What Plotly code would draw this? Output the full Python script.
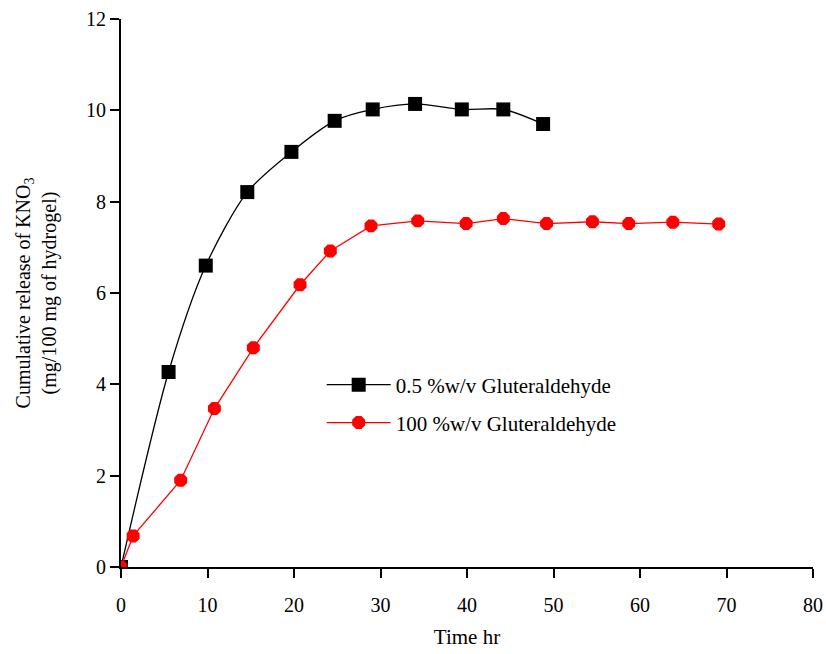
import plotly.graph_objects as go

# Data
time_a = [0, 5.5, 9.8, 14.6, 19.7, 24.7, 29.1, 34.0, 39.4, 44.2, 48.8]
rel_a = [0, 4.27, 6.6, 8.21, 9.09, 9.77, 10.02, 10.14, 10.02, 10.02, 9.70]
time_b = [0, 1.4, 6.9, 10.8, 15.3, 20.7, 24.2, 28.9, 34.3, 39.9, 44.2, 49.2, 54.5, 58.7, 63.8, 69.1]
rel_b = [0, 0.68, 1.9, 3.47, 4.8, 6.18, 6.92, 7.47, 7.58, 7.52, 7.63, 7.52, 7.56, 7.52, 7.55, 7.51]
name_a = "0.5 %w/v Gluteraldehyde"
name_b = "100 %w/v Gluteraldehyde"
x_ticks = [0, 10, 20, 30, 40, 50, 60, 70, 80]
y_ticks = [0, 2, 4, 6, 8, 10, 12]

FONT = "Liberation Serif"

fig = go.Figure()
fig.add_trace(go.Scatter(
    x=time_a, y=rel_a, name=name_a, mode="lines+markers",
    line=dict(color="black", width=1.3, shape="spline", smoothing=0.8),
    marker=dict(symbol="square", size=14, color="black"),
    legend="legend",
))
fig.add_trace(go.Scatter(
    x=time_b, y=rel_b, name=name_b, mode="lines+markers",
    line=dict(color="#ff0000", width=1.3),
    marker=dict(symbol="octagon", size=14, color="#ff0000"),
    legend="legend2",
))

axis_common = dict(
    showline=True, linecolor="black", linewidth=2,
    ticks="outside", ticklen=9, tickwidth=2, tickcolor="black",
    showgrid=False, zeroline=False, automargin=False,
    tickfont=dict(family=FONT, size=20, color="black"),
)

fig.update_layout(
    width=826, height=654,
    paper_bgcolor="white", plot_bgcolor="white",
    margin=dict(l=121, r=13, t=19, b=87),
    font=dict(family=FONT, color="black"),
    xaxis=dict(range=[0, 80], tickvals=x_ticks, ticklabelstandoff=10,
               title=dict(text="Time hr", font=dict(family=FONT, size=21), standoff=14),
               **axis_common),
    yaxis=dict(range=[0, 12], tickvals=y_ticks,
               title=dict(text="Cumulative release of KNO<sub>3</sub><br>(mg/100 mg of hydrogel)",
                          font=dict(family=FONT, size=20), standoff=24),
               **axis_common),
    legend=dict(x=0.29, y=0.332, xanchor="left", yanchor="middle",
                bgcolor="rgba(0,0,0,0)", font=dict(family=FONT, size=21),
                itemwidth=64),
    legend2=dict(x=0.29, y=0.263, xanchor="left", yanchor="middle",
                 bgcolor="rgba(0,0,0,0)", font=dict(family=FONT, size=21),
                 itemwidth=64),
    showlegend=True,
)

fig.write_html("out.html", config={"displayModeBar": False},
               post_script="document.body.style.margin='0';document.body.style.overflow='hidden';")
